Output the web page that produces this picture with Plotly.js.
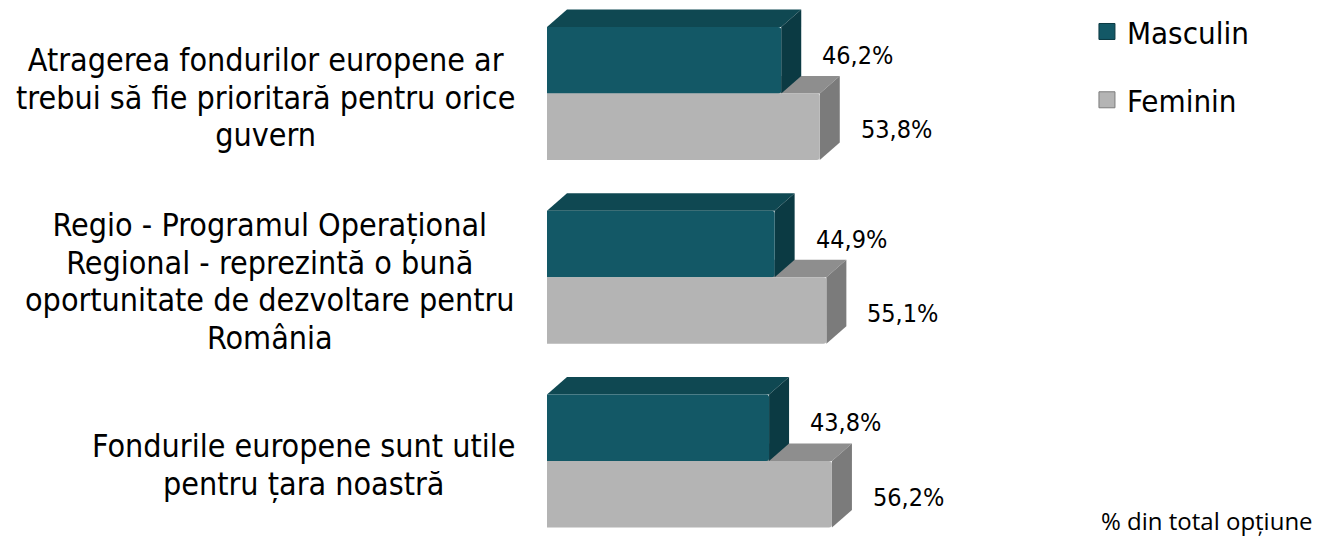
<!DOCTYPE html>
<html>
<head>
<meta charset="utf-8">
<script src="https://cdn.plot.ly/plotly-3.0.1.min.js"></script>
<style>
  html, body { margin: 0; padding: 0; background: #fff; }
  #chart { width: 1327px; height: 538px; }
</style>
</head>
<body>
<div id="chart"></div>
<script>
// Opinii despre fondurile europene, pe sexe (% din total opțiune)
const categories = [
  ['Atragerea fondurilor europene ar', 'trebui să fie prioritară pentru orice', 'guvern'],
  ['Regio - Programul Operațional', 'Regional - reprezintă o bună', 'oportunitate de dezvoltare pentru', 'România'],
  ['Fondurile europene sunt utile', 'pentru țara noastră'],
];
const masculin = [46.2, 44.9, 43.8];
const feminin = [53.8, 55.1, 56.2];
const seriesNames = ['Masculin', 'Feminin'];
const footNote = '% din total opțiune';

const FONT = '"DejaVu Sans Condensed", "DejaVu Sans", sans-serif';
const TEAL = { front: '#135866', top: '#0f4852', side: '#0b3a43' };
const GREY = { front: '#b4b4b4', top: '#8e8e8e', side: '#7b7b7b' };

// plot geometry: 507px for 100%, 183.75px per category
const PX_X = 507 / 100;
const PX_Y = 183.75;
const DX = 20 / PX_X;     // depth of the fake 3D box, in data units
const DY = 17.5 / PX_Y;
const BARW = (1 - 0.276) / 2;

const ys = categories.map((_, i) => i);
const fmt = (v) => v.toFixed(1).replace('.', ',') + '%';

function boxFaces(values, offset, col) {
  const out = [];
  values.forEach((v, i) => {
    const y0 = i + offset;          // upper edge of the front face
    const y1 = y0 + BARW;           // lower edge
    out.push({
      type: 'path', xref: 'x', yref: 'y', layer: 'below',
      path: `M0,${y0} L${v},${y0} L${v + DX},${y0 - DY} L${DX},${y0 - DY} Z`,
      fillcolor: col.top, line: { width: 0 },
    });
    out.push({
      type: 'path', xref: 'x', yref: 'y', layer: 'below',
      path: `M${v},${y0} L${v + DX},${y0 - DY} L${v + DX},${y1 - DY} L${v},${y1} Z`,
      fillcolor: col.side, line: { width: 0 },
    });
  });
  return out;
}

function barTrace(name, values, col) {
  return {
    type: 'bar', orientation: 'h', name,
    x: values, y: ys,
    marker: { color: col.front, cornerradius: 3, line: { width: 0 } },
    showlegend: false,
    hoverinfo: 'skip',
  };
}

// legend entries only (bigger square swatch than the bar legend gives)
function legendTrace(name, col) {
  return {
    type: 'scatter', mode: 'markers', name,
    x: [null], y: [null],
    marker: { symbol: 'square', size: 17, color: col.front, line: { color: col.side, width: 1 } },
    legendgroup: name,
  };
}

const traces = [
  barTrace(seriesNames[0], masculin, TEAL),
  barTrace(seriesNames[1], feminin, GREY),
  legendTrace(seriesNames[0], TEAL),
  legendTrace(seriesNames[1], GREY),
];

// grey faces first so the teal box sits in front of them
const shapes = [
  ...boxFaces(feminin, 0, GREY),
  ...boxFaces(masculin, -BARW, TEAL),
];

const annotations = [];
categories.forEach((lines, i) => {
  annotations.push({
    xref: 'x', yref: 'y', x: 0, y: i,
    xanchor: 'right', yanchor: 'middle', align: 'center',
    xshift: -30, yshift: -4,
    text: lines.map((l) => `<span style="font-size:32px">${l}</span>`).join('<br>'),
    showarrow: false,
    font: { family: FONT, size: 29, color: '#000' },
  });
});
masculin.forEach((v, i) => {
  annotations.push({
    xref: 'x', yref: 'y', x: v, y: i - BARW / 2,
    xanchor: 'left', yanchor: 'middle', xshift: 39, yshift: 5,
    text: fmt(v), showarrow: false,
    font: { family: FONT, size: 25, color: '#000' },
  });
});
feminin.forEach((v, i) => {
  annotations.push({
    xref: 'x', yref: 'y', x: v, y: i + BARW / 2,
    xanchor: 'left', yanchor: 'middle', xshift: 39, yshift: -3,
    text: fmt(v), showarrow: false,
    font: { family: FONT, size: 25, color: '#000' },
  });
});
annotations.push({
  xref: 'paper', yref: 'paper', x: 1.515, y: 0,
  xanchor: 'right', yanchor: 'bottom', yshift: -1,
  text: footNote, showarrow: false,
  font: { family: '"Open Sans", sans-serif', size: 24, color: '#000' },
});

const layout = {
  width: 1327, height: 538,
  margin: { l: 547, r: 273, t: 0, b: 0 },
  paper_bgcolor: '#fff', plot_bgcolor: '#fff',
  barmode: 'group', bargap: 0.276, bargroupgap: 0,
  xaxis: { range: [0, 100], visible: false, fixedrange: true },
  yaxis: { range: [2.419, -0.509], visible: false, fixedrange: true },
  showlegend: true,
  legend: {
    x: 1.065, xanchor: 'left', y: 0.991, yanchor: 'top',
    traceorder: 'grouped', tracegroupgap: 25,
    font: { family: FONT, size: 31, color: '#000' },
    bgcolor: 'rgba(0,0,0,0)', itemclick: false, itemdoubleclick: false,
  },
  shapes, annotations,
};

Plotly.newPlot('chart', traces, layout, { displayModeBar: false, staticPlot: true });
</script>
</body>
</html>
